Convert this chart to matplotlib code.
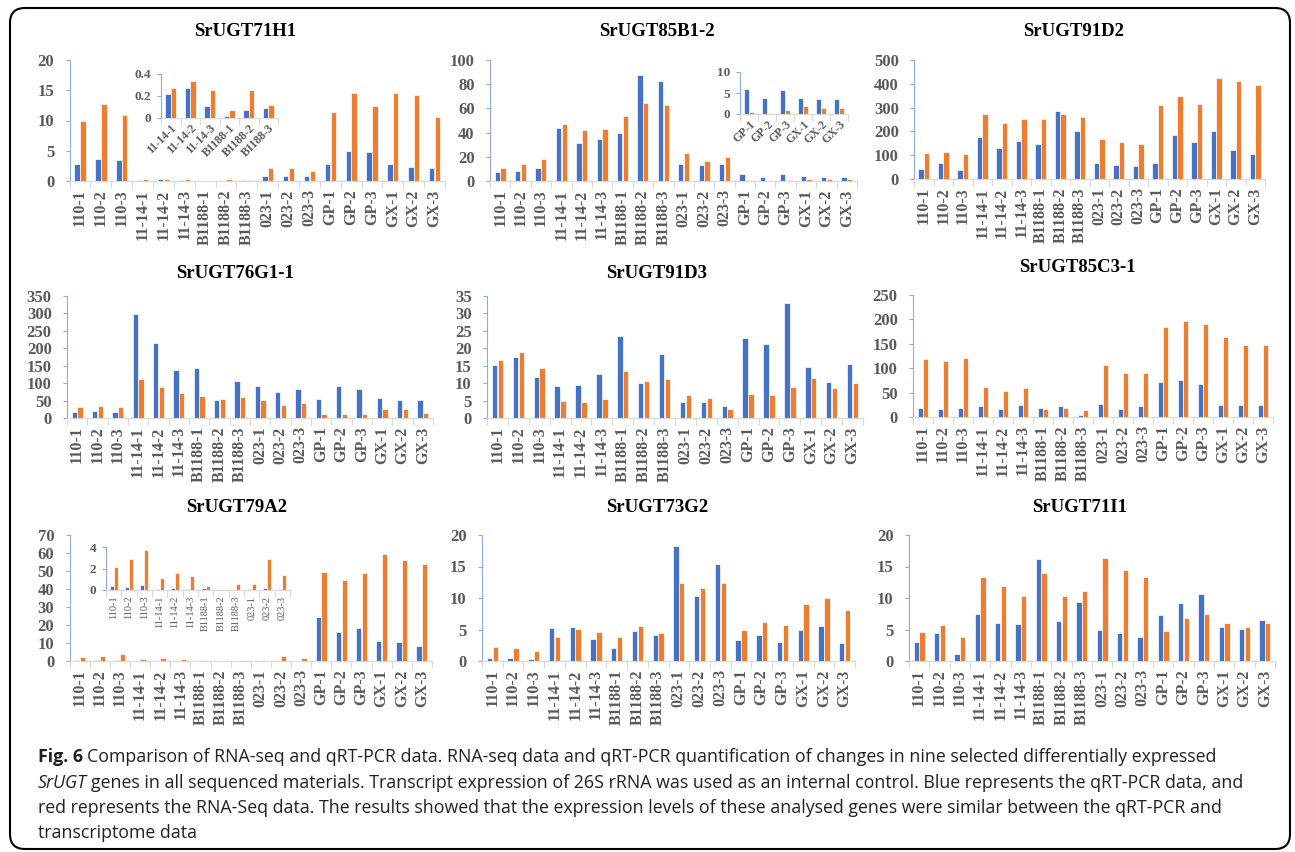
import numpy as np
import matplotlib.pyplot as plt
from matplotlib.patches import FancyBboxPatch

samples = ["110-1", "110-2", "110-3", "11-14-1", "11-14-2", "11-14-3",
           "B1188-1", "B1188-2", "B1188-3", "023-1", "023-2", "023-3",
           "GP-1", "GP-2", "GP-3", "GX-1", "GX-2", "GX-3"]

# blue = qRT-PCR, orange = RNA-seq
h71_qpcr = [2.8, 3.7, 3.4, 0.215, 0.27, 0.113, 0.02, 0.075, 0.087, 0.8, 0.8, 0.75, 2.8, 4.9, 4.8, 2.75, 2.25, 2.15]
h71_rna = [9.9, 12.7, 10.9, 0.275, 0.34, 0.254, 0.075, 0.255, 0.12, 2.1, 2.15, 1.7, 11.4, 14.6, 12.4, 14.5, 14.2, 10.6]

b85_qpcr = [7.4, 8.3, 11.0, 43.8, 31.1, 34.7, 39.4, 87.3, 82.9, 14.0, 13.5, 14.0, 5.84, 3.7, 5.6, 3.84, 3.52, 3.52]
b85_rna = [11.0, 14.0, 17.9, 46.8, 42.4, 43.0, 53.4, 64.5, 62.8, 23.4, 16.8, 20.1, 0.56, 0.24, 1.04, 2.0, 1.52, 1.36]

d91_qpcr = [43, 66, 36, 177, 129, 161, 147, 286, 202, 66, 58, 53, 69, 184, 156, 202, 122, 107]
d91_rna = [111, 114, 104, 274, 236, 253, 253, 272, 260, 168, 154, 146, 309, 347, 315, 426, 411, 393]

g76_qpcr = [18, 19, 18, 298, 215, 139, 144, 52, 106, 91, 75, 82, 54, 92, 83, 58, 51, 51]
g76_rna = [32, 34, 31, 112, 90, 72, 63, 55, 59, 52, 38, 44, 10.5, 12.4, 11.4, 25.7, 25.7, 15.3]

d3_qpcr = [15.3, 17.4, 11.9, 9.1, 9.5, 12.6, 23.5, 10.1, 18.3, 4.5, 4.5, 3.3, 22.9, 21.2, 32.9, 14.6, 10.4, 15.5]
d3_rna = [16.6, 18.8, 14.3, 5.0, 4.5, 5.4, 13.6, 10.5, 11.3, 6.7, 5.8, 2.5, 6.9, 6.7, 8.8, 11.4, 8.5, 9.9]

c85_qpcr = [19, 16, 19, 22, 16, 24, 18, 22, 3.4, 27, 16, 22, 71, 75, 67, 25, 25, 24]
c85_rna = [118, 115, 120, 61, 54, 59, 16, 18, 14, 107, 90, 91, 184, 197, 190, 164, 147, 147]

a79_qpcr = [0.34, 0.28, 0.43, 0.12, 0.18, 0.06, 0.18, 0.03, 0.03, 0.09, 0.15, 0.06, 24.6, 16.1, 18.3, 11.3, 10.7, 8.5]
a79_rna = [2.15, 2.86, 3.7, 1.08, 1.6, 1.32, 0.4, 0.03, 0.55, 0.55, 2.9, 1.4, 49.5, 45.1, 49.0, 59.3, 56.2, 53.9]

g73_qpcr = [0.53, 0.47, 0.32, 5.17, 5.38, 3.43, 2.06, 4.7, 4.12, 18.3, 10.34, 15.4, 3.32, 4.17, 3.06, 4.85, 5.6, 2.85]
g73_rna = [2.3, 2.06, 1.64, 3.75, 5.12, 4.59, 3.85, 5.49, 4.38, 12.45, 11.6, 12.35, 4.9, 6.17, 5.75, 9.02, 9.97, 8.07]

i71_qpcr = [2.95, 4.37, 1.05, 7.53, 6.05, 5.84, 16.26, 6.42, 9.32, 4.9, 4.37, 3.84, 7.37, 9.16, 10.58, 5.37, 5.05, 6.53]
i71_rna = [4.58, 5.68, 3.84, 13.26, 11.95, 10.26, 13.9, 10.37, 11.05, 16.4, 14.47, 13.26, 4.74, 6.84, 7.42, 6.0, 5.37, 6.05]

BLUE = "#4472C4"
ORANGE = "#ED7D31"
GREY = "#595959"
SERIF = "Liberation Serif"

W, H = 1295, 852
fig = plt.figure(figsize=(W / 100, H / 100), dpi=100)


def box(l, t, r, b):
    return [l / W, 1 - b / H, (r - l) / W, (b - t) / H]


def draw(ax, blue, orange, labels, ymax, step, rot=90, fs=11.5, yfs=12,
         weight="bold", ypad=8, xpad=6):
    x = np.arange(len(labels))
    ax.bar(x - 0.14, blue, 0.26, color=BLUE, edgecolor="white", linewidth=0.5)
    ax.bar(x + 0.14, orange, 0.26, color=ORANGE, edgecolor="white", linewidth=0.5)
    ax.set_xlim(-0.5, len(labels) - 0.5)
    ax.set_ylim(0, ymax)
    ticks = np.arange(0, ymax + step / 2, step)
    ax.set_yticks(ticks)
    ax.set_yticklabels([f"{v:g}" for v in ticks], fontsize=yfs, fontweight="bold",
                       family=SERIF, color=GREY)
    ax.set_xticks(x)
    if rot == 90:
        ax.set_xticklabels(labels, rotation=90, fontsize=fs, fontweight=weight,
                           family=SERIF, color=GREY)
    else:
        ax.set_xticklabels(labels, rotation=rot, ha="right", rotation_mode="anchor",
                           fontsize=fs, fontweight=weight, family=SERIF, color=GREY)
    ax.set_xticks(np.arange(-0.5, len(labels), 1), minor=True)
    ax.tick_params(axis="x", which="major", length=0, pad=xpad)
    ax.tick_params(axis="x", which="minor", length=5, color="#D9D9D9", width=0.8)
    ax.tick_params(axis="y", length=3, color="#8FAADC", pad=ypad)
    for s in ("top", "right"):
        ax.spines[s].set_visible(False)
    ax.spines["left"].set_color("#8FAADC")
    ax.spines["bottom"].set_color("#D9D9D9")
    ax.patch.set_alpha(0)


def title(x, y, s):
    fig.text(x / W, 1 - y / H, s, ha="center", va="center", fontsize=13.5,
             fontweight="bold", family=SERIF, color="black")


# row 1
ax = fig.add_axes(box(69.6, 60, 445, 181))
draw(ax, h71_qpcr, h71_rna, samples, 20, 5)
title(245, 32, "SrUGT71H1")
ins = fig.add_axes(box(161, 74, 278, 118))
draw(ins, h71_qpcr[3:9], h71_rna[3:9], samples[3:9], 0.4, 0.2, rot=45, fs=8.5,
     yfs=9.5, ypad=4, xpad=3)

ax = fig.add_axes(box(490, 60, 857, 181))
draw(ax, b85_qpcr, b85_rna, samples, 100, 20)
title(657, 32, "SrUGT85B1-2")
ins = fig.add_axes(box(740, 72, 848, 114))
draw(ins, b85_qpcr[12:], b85_rna[12:], samples[12:], 10, 5, rot=45, fs=8.5,
     yfs=9.5, ypad=4, xpad=3)

ax = fig.add_axes(box(914, 60, 1265, 179))
draw(ax, d91_qpcr, d91_rna, samples, 500, 100)
title(1073, 32, "SrUGT91D2")

# row 2
ax = fig.add_axes(box(67, 296, 433, 418))
draw(ax, g76_qpcr, g76_rna, samples, 350, 50)
title(235, 273, "SrUGT76G1-1")

ax = fig.add_axes(box(487, 296, 863, 418))
draw(ax, d3_qpcr, d3_rna, samples, 35, 5)
title(657, 273, "SrUGT91D3")

ax = fig.add_axes(box(913, 295, 1273, 417))
draw(ax, c85_qpcr, c85_rna, samples, 250, 50)
title(1077, 268, "SrUGT85C3-1")

# row 3
ax = fig.add_axes(box(69.6, 535, 432, 661))
draw(ax, a79_qpcr, a79_rna, samples, 70, 10)
title(237, 508, "SrUGT79A2")
ins = fig.add_axes(box(106, 547, 290, 590))
draw(ins, a79_qpcr[:12], a79_rna[:12], samples[:12], 4, 2, fs=7.5, yfs=9.5,
     weight="normal", ypad=4, xpad=4)

ax = fig.add_axes(box(482, 535, 855, 661))
draw(ax, g73_qpcr, g73_rna, samples, 20, 5)
title(657, 508, "SrUGT73G2")

ax = fig.add_axes(box(909, 535, 1275, 661))
draw(ax, i71_qpcr, i71_rna, samples, 20, 5)
title(1080, 508, "SrUGT71I1")

# caption
cap = dict(family="Open Sans", fontsize=12.8, color="#231F20", va="center")
rend = fig.canvas.get_renderer()
lines = [
    ("Fig. 6", "bold", "Comparison of RNA-seq and qRT-PCR data. RNA-seq data and qRT-PCR quantification of changes in nine selected differentially expressed"),
    ("SrUGT", "italic", "genes in all sequenced materials. Transcript expression of 26S rRNA was used as an internal control. Blue represents the qRT-PCR data, and"),
    (None, None, "red represents the RNA-Seq data. The results showed that the expression levels of these analysed genes were similar between the qRT-PCR and"),
    (None, None, "transcriptome data"),
]
for i, (head, style, rest) in enumerate(lines):
    y = 1 - (757 + 25.5 * i) / H
    x = 38
    if head:
        if style == "bold":
            t = fig.text(x / W, y, head, fontweight="bold", **cap)
        else:
            t = fig.text(x / W, y, head, style="italic", **cap)
        x += t.get_window_extent(rend).width + 4
    fig.text(x / W, y, rest, **cap)

border = FancyBboxPatch((0.10, 0.03), 12.8, 8.41,
                        boxstyle="round,pad=0,rounding_size=0.15",
                        transform=fig.dpi_scale_trans, fill=False,
                        edgecolor="black", linewidth=1.5)
fig.add_artist(border)

fig.savefig("out.png", dpi=100)
